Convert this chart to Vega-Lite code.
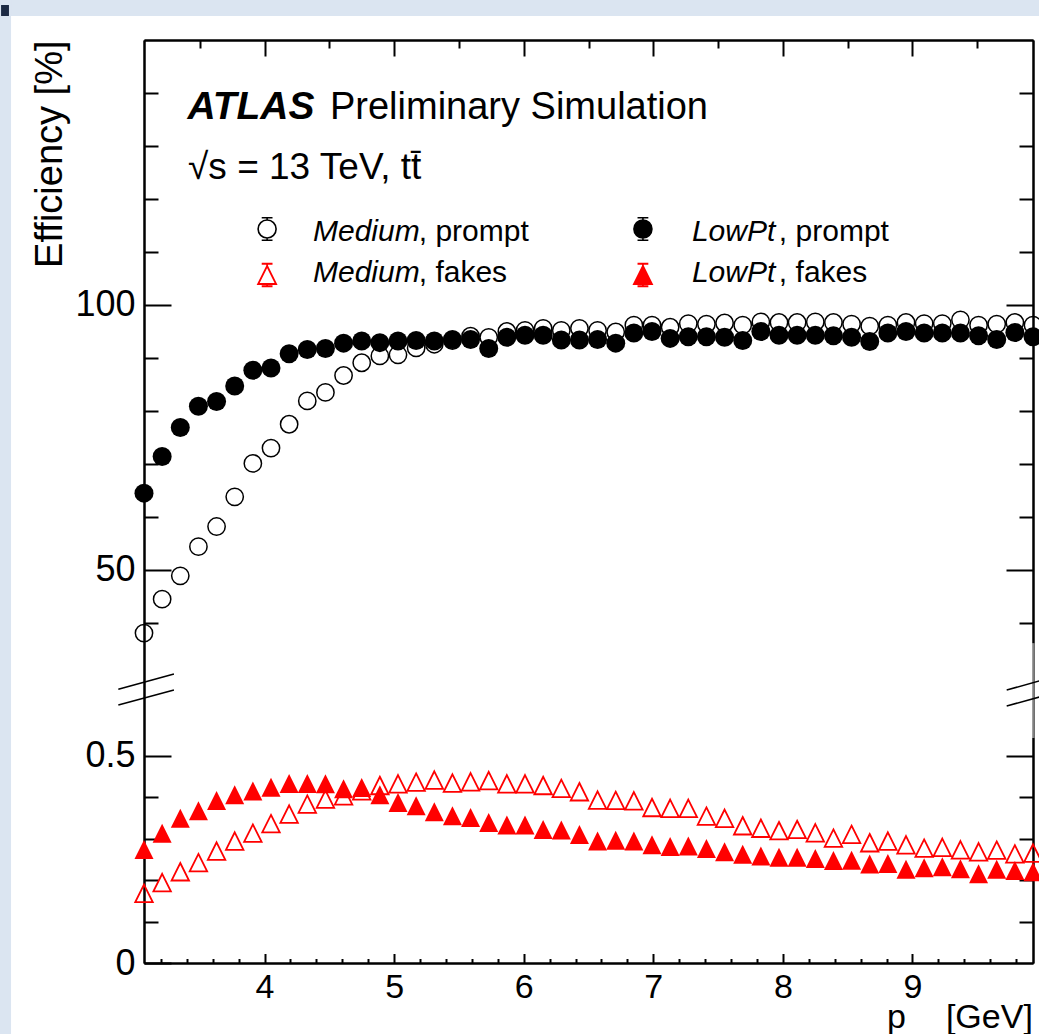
{
  "$schema": "https://vega.github.io/schema/vega-lite/v6.json",
  "autosize": "none",
  "width": 889,
  "height": 923,
  "padding": {"left": 144, "top": 40, "right": 6, "bottom": 71},
  "background": "white",
  "config": {
    "view": {"stroke": null},
    "font": "Liberation Sans",
    "axis": {
      "grid": false,
      "domainColor": "#000000",
      "domainWidth": 2,
      "tickColor": "#000000",
      "tickWidth": 2,
      "labelColor": "#000000",
      "labelFont": "Liberation Sans",
      "titleFont": "Liberation Sans",
      "titleColor": "#000000",
      "titleFontWeight": "normal",
      "labelFlush": false,
      "labelOverlap": false,
      "labelBound": false
    }
  },
  "data": {
    "values": [
      {"pt": 3.07, "mp": 38.1, "lp": 64.5, "mf": 0.168, "lf": 0.274},
      {"pt": 3.21, "mp": 44.5, "lp": 71.4, "mf": 0.194, "lf": 0.313},
      {"pt": 3.35, "mp": 48.9, "lp": 76.9, "mf": 0.220, "lf": 0.349},
      {"pt": 3.49, "mp": 54.4, "lp": 80.9, "mf": 0.242, "lf": 0.367},
      {"pt": 3.63, "mp": 58.2, "lp": 81.8, "mf": 0.270, "lf": 0.392},
      {"pt": 3.77, "mp": 63.8, "lp": 84.7, "mf": 0.294, "lf": 0.406},
      {"pt": 3.91, "mp": 70.1, "lp": 87.7, "mf": 0.313, "lf": 0.415},
      {"pt": 4.05, "mp": 73.0, "lp": 88.1, "mf": 0.336, "lf": 0.424},
      {"pt": 4.19, "mp": 77.5, "lp": 90.8, "mf": 0.359, "lf": 0.433},
      {"pt": 4.33, "mp": 81.9, "lp": 91.6, "mf": 0.383, "lf": 0.433},
      {"pt": 4.47, "mp": 83.5, "lp": 91.8, "mf": 0.395, "lf": 0.432},
      {"pt": 4.61, "mp": 86.7, "lp": 92.8, "mf": 0.403, "lf": 0.420},
      {"pt": 4.75, "mp": 89.1, "lp": 93.2, "mf": 0.415, "lf": 0.423},
      {"pt": 4.89, "mp": 90.4, "lp": 92.9, "mf": 0.428, "lf": 0.406},
      {"pt": 5.03, "mp": 90.6, "lp": 93.2, "mf": 0.432, "lf": 0.387},
      {"pt": 5.17, "mp": 91.9, "lp": 93.3, "mf": 0.436, "lf": 0.379},
      {"pt": 5.31, "mp": 92.6, "lp": 93.2, "mf": 0.441, "lf": 0.365},
      {"pt": 5.45, "mp": 93.3, "lp": 93.5, "mf": 0.434, "lf": 0.355},
      {"pt": 5.59, "mp": 94.1, "lp": 93.5, "mf": 0.437, "lf": 0.351},
      {"pt": 5.73, "mp": 93.9, "lp": 91.8, "mf": 0.440, "lf": 0.339},
      {"pt": 5.87, "mp": 95.0, "lp": 93.9, "mf": 0.432, "lf": 0.333},
      {"pt": 6.01, "mp": 95.2, "lp": 94.3, "mf": 0.432, "lf": 0.333},
      {"pt": 6.15, "mp": 95.6, "lp": 94.3, "mf": 0.428, "lf": 0.322},
      {"pt": 6.29, "mp": 95.2, "lp": 93.4, "mf": 0.421, "lf": 0.321},
      {"pt": 6.43, "mp": 95.6, "lp": 93.4, "mf": 0.413, "lf": 0.310},
      {"pt": 6.57, "mp": 95.2, "lp": 93.5, "mf": 0.393, "lf": 0.294},
      {"pt": 6.71, "mp": 94.9, "lp": 92.8, "mf": 0.392, "lf": 0.296},
      {"pt": 6.85, "mp": 96.2, "lp": 94.7, "mf": 0.391, "lf": 0.294},
      {"pt": 6.99, "mp": 96.2, "lp": 95.0, "mf": 0.375, "lf": 0.285},
      {"pt": 7.13, "mp": 95.8, "lp": 93.7, "mf": 0.373, "lf": 0.281},
      {"pt": 7.27, "mp": 96.5, "lp": 94.0, "mf": 0.373, "lf": 0.282},
      {"pt": 7.41, "mp": 96.4, "lp": 94.0, "mf": 0.354, "lf": 0.276},
      {"pt": 7.55, "mp": 96.6, "lp": 93.9, "mf": 0.349, "lf": 0.268},
      {"pt": 7.69, "mp": 96.2, "lp": 93.3, "mf": 0.331, "lf": 0.262},
      {"pt": 7.83, "mp": 96.8, "lp": 95.0, "mf": 0.325, "lf": 0.258},
      {"pt": 7.97, "mp": 96.7, "lp": 94.3, "mf": 0.319, "lf": 0.255},
      {"pt": 8.11, "mp": 96.7, "lp": 94.3, "mf": 0.322, "lf": 0.255},
      {"pt": 8.25, "mp": 96.8, "lp": 94.3, "mf": 0.314, "lf": 0.252},
      {"pt": 8.39, "mp": 96.7, "lp": 94.2, "mf": 0.301, "lf": 0.247},
      {"pt": 8.53, "mp": 96.4, "lp": 93.9, "mf": 0.310, "lf": 0.248},
      {"pt": 8.67, "mp": 96.0, "lp": 93.1, "mf": 0.290, "lf": 0.239},
      {"pt": 8.81, "mp": 96.2, "lp": 94.7, "mf": 0.294, "lf": 0.240},
      {"pt": 8.95, "mp": 96.7, "lp": 95.0, "mf": 0.285, "lf": 0.226},
      {"pt": 9.09, "mp": 96.5, "lp": 94.7, "mf": 0.277, "lf": 0.230},
      {"pt": 9.23, "mp": 96.5, "lp": 94.7, "mf": 0.279, "lf": 0.232},
      {"pt": 9.37, "mp": 97.2, "lp": 94.7, "mf": 0.273, "lf": 0.227},
      {"pt": 9.51, "mp": 96.2, "lp": 94.2, "mf": 0.268, "lf": 0.215},
      {"pt": 9.65, "mp": 96.4, "lp": 93.5, "mf": 0.272, "lf": 0.226},
      {"pt": 9.79, "mp": 96.7, "lp": 94.8, "mf": 0.263, "lf": 0.223},
      {"pt": 9.93, "mp": 96.2, "lp": 94.0, "mf": 0.265, "lf": 0.220}
    ]
  },
  "layer": [
    {
      "data": {"values": [{}]},
      "mark": {"type": "rect", "color": "#dbe5f1"},
      "encoding": {
        "x": {"datum": 1.8, "type": "quantitative", "axis": null, "scale": {"domain": [3.07, 9.93], "nice": false, "zero": false}},
        "x2": {"datum": 10.4},
        "y": {"datum": 154.53, "type": "quantitative", "axis": null, "scale": {"domain": [0, 0.5426, 18.3, 150], "range": [923, 698, 698, 0], "nice": false, "zero": false}},
        "y2": {"datum": 170}
      }
    },
    {
      "data": {"values": [{}]},
      "mark": {"type": "rect", "color": "#dbe5f1"},
      "encoding": {
        "x": {"datum": 1.8, "type": "quantitative", "axis": null},
        "x2": {"datum": 2.044},
        "y": {"datum": -0.3, "type": "quantitative", "axis": null},
        "y2": {"datum": 170}
      }
    },
    {
      "data": {"values": [{}]},
      "mark": {"type": "rect", "color": "#1c2a44"},
      "encoding": {
        "x": {"datum": 1.967, "type": "quantitative", "axis": null},
        "x2": {"datum": 2.028},
        "y": {"datum": 154.53, "type": "quantitative", "axis": null},
        "y2": {"datum": 156.6}
      }
    },
    {
      "mark": {"type": "point", "shape": "circle", "filled": false, "color": "#000000", "strokeWidth": 1.5, "size": 300, "opacity": 1},
      "encoding": {
        "x": {"field": "pt", "type": "quantitative", "scale": {"domain": [3.07, 9.93], "nice": false, "zero": false},
          "axis": {"orient": "bottom", "values": [4, 5, 6, 7, 8, 9], "tickSize": -9.5, "labelPadding": 17, "labelFontSize": 34, "labelExpr": "'' + datum.value", "title": null}},
        "y": {"field": "mp", "type": "quantitative", "scale": {"domain": [0, 0.5426, 18.3, 150], "range": [923, 698, 698, 0], "nice": false, "zero": false},
          "axis": {"orient": "left", "values": [0, 0.5, 50, 100], "tickSize": -27, "labelPadding": 36, "labelFontSize": 36, "labelExpr": "'' + datum.value", "title": "Efficiency [%]", "titleFontSize": 38, "titleAnchor": "end", "titlePadding": 5}}
      }
    },
    {
      "mark": {"type": "point", "shape": "circle", "filled": true, "color": "#000000", "size": 361, "opacity": 1},
      "encoding": {
        "x": {"field": "pt", "type": "quantitative",
          "axis": {"orient": "bottom", "values": [3.2, 3.4, 3.6, 3.8, 4.2, 4.4, 4.6, 4.8, 5.2, 5.4, 5.6, 5.8, 6.2, 6.4, 6.6, 6.8, 7.2, 7.4, 7.6, 7.8, 8.2, 8.4, 8.6, 8.8, 9.2, 9.4, 9.6, 9.8], "tickSize": -4.5, "labels": false, "title": null}},
        "y": {"field": "lp", "type": "quantitative",
          "axis": {"orient": "left", "values": [0.1, 0.2, 0.3, 0.4, 40, 60, 70, 80, 90, 110, 120, 130, 140], "tickSize": -14, "labels": false, "title": null}}
      }
    },
    {
      "mark": {"type": "point", "shape": "M0,-1L1,1L-1,1Z", "filled": false, "color": "#ff0000", "strokeWidth": 1.8, "size": 306, "opacity": 1},
      "encoding": {
        "x": {"field": "pt", "type": "quantitative",
          "axis": {"orient": "top", "values": [4, 5, 6, 7, 8, 9], "tickSize": -16, "labels": false, "title": null}},
        "y": {"field": "mf", "type": "quantitative",
          "axis": {"orient": "right", "values": [0.5, 50, 100], "tickSize": -27, "labels": false, "title": null}}
      }
    },
    {
      "mark": {"type": "point", "shape": "M0,-1L1,1L-1,1Z", "filled": true, "color": "#ff0000", "size": 361, "opacity": 1},
      "encoding": {
        "x": {"field": "pt", "type": "quantitative",
          "axis": {"orient": "top", "values": [3.5, 4.5, 5.5, 6.5, 7.5, 8.5, 9.5], "tickSize": -8, "labels": false, "title": null}},
        "y": {"field": "lf", "type": "quantitative",
          "axis": {"orient": "right", "values": [0.1, 0.2, 0.3, 0.4, 40, 60, 70, 80, 90, 110, 120, 130, 140], "tickSize": -14, "labels": false, "title": null}}
      }
    },
    {
      "data": {"values": [{}]},
      "mark": {"type": "rule", "color": "#ffffff", "opacity": 0.5, "strokeWidth": 3},
      "encoding": {
        "x": {"datum": 9.93, "type": "quantitative", "axis": null},
        "y": {"datum": 36.2, "type": "quantitative", "axis": null},
        "y2": {"datum": 18.3}
      }
    },
    {
      "data": {"values": [{}]},
      "mark": {"type": "rule", "color": "#000000", "strokeWidth": 1.5},
      "encoding": {
        "x": {"datum": 2.872, "type": "quantitative", "axis": null},
        "x2": {"datum": 3.301},
        "y": {"datum": 27.49, "type": "quantitative", "axis": null},
        "y2": {"datum": 30.38}
      }
    },
    {
      "data": {"values": [{}]},
      "mark": {"type": "rule", "color": "#000000", "strokeWidth": 1.5},
      "encoding": {
        "x": {"datum": 2.872, "type": "quantitative", "axis": null},
        "x2": {"datum": 3.301},
        "y": {"datum": 24.53, "type": "quantitative", "axis": null},
        "y2": {"datum": 27.36}
      }
    },
    {
      "data": {"values": [{}]},
      "mark": {"type": "rule", "color": "#000000", "strokeWidth": 1.5},
      "encoding": {
        "x": {"datum": 9.727, "type": "quantitative", "axis": null},
        "x2": {"datum": 10.153},
        "y": {"datum": 27.36, "type": "quantitative", "axis": null},
        "y2": {"datum": 30.23}
      }
    },
    {
      "data": {"values": [{}]},
      "mark": {"type": "rule", "color": "#000000", "strokeWidth": 1.5},
      "encoding": {
        "x": {"datum": 9.727, "type": "quantitative", "axis": null},
        "x2": {"datum": 10.153},
        "y": {"datum": 24.34, "type": "quantitative", "axis": null},
        "y2": {"datum": 27.2}
      }
    },
    {
      "data": {"values": [{}]},
      "mark": {"type": "point", "shape": "M1,0A1,1,0,1,1,-1,0A1,1,0,1,1,1,0Z M0,-1V-1.25 M-0.6,-1.25H0.6 M0,1V1.25 M-0.6,1.25H0.6", "filled": false, "color": "#000000", "strokeWidth": 1.6, "size": 324, "opacity": 1},
      "encoding": {
        "x": {"datum": 4.02, "type": "quantitative", "axis": null},
        "y": {"datum": 114.34, "type": "quantitative", "axis": null}
      }
    },
    {
      "data": {"values": [{}]},
      "mark": {"type": "point", "shape": "M0,-1L1,1L-1,1Z M0,-1V-1.25 M-0.6,-1.25H0.6 M0,1V1.25 M-0.6,1.25H0.6", "filled": false, "color": "#ff0000", "strokeWidth": 1.8, "size": 324, "opacity": 1},
      "encoding": {
        "x": {"datum": 4.02, "type": "quantitative", "axis": null},
        "y": {"datum": 105.66, "type": "quantitative", "axis": null}
      }
    },
    {
      "data": {"values": [{}]},
      "mark": {"type": "point", "shape": "M1,0A1,1,0,1,1,-1,0A1,1,0,1,1,1,0Z M0,-1V-1.25 M-0.6,-1.25H0.6 M0,1V1.25 M-0.6,1.25H0.6", "filled": true, "color": "#000000", "stroke": "#000000", "strokeWidth": 1.6, "size": 324, "opacity": 1},
      "encoding": {
        "x": {"datum": 6.92, "type": "quantitative", "axis": null},
        "y": {"datum": 114.34, "type": "quantitative", "axis": null}
      }
    },
    {
      "data": {"values": [{}]},
      "mark": {"type": "point", "shape": "M0,-1L1,1L-1,1Z M0,-1V-1.25 M-0.6,-1.25H0.6 M0,1V1.25 M-0.6,1.25H0.6", "filled": true, "color": "#ff0000", "stroke": "#ff0000", "strokeWidth": 1.8, "size": 324, "opacity": 1},
      "encoding": {
        "x": {"datum": 6.92, "type": "quantitative", "axis": null},
        "y": {"datum": 105.66, "type": "quantitative", "axis": null}
      }
    },
    {
      "data": {"values": [{}]},
      "mark": {"type": "text", "text": "ATLAS", "fontSize": 39, "fontStyle": "italic", "fontWeight": "bold", "align": "left", "baseline": "alphabetic", "color": "#000000"},
      "encoding": {"x": {"datum": 3.405, "type": "quantitative", "axis": null}, "y": {"datum": 135.1, "type": "quantitative", "axis": null}}
    },
    {
      "data": {"values": [{}]},
      "mark": {"type": "text", "text": "Preliminary Simulation", "fontSize": 38, "align": "left", "baseline": "alphabetic", "color": "#000000"},
      "encoding": {"x": {"datum": 4.505, "type": "quantitative", "axis": null}, "y": {"datum": 135.1, "type": "quantitative", "axis": null}}
    },
    {
      "data": {"values": [{}]},
      "mark": {"type": "text", "text": "√s = 13 TeV, tt̄", "fontSize": 37, "align": "left", "baseline": "alphabetic", "color": "#000000"},
      "encoding": {"x": {"datum": 3.41, "type": "quantitative", "axis": null}, "y": {"datum": 123.77, "type": "quantitative", "axis": null}}
    },
    {
      "data": {"values": [{}]},
      "mark": {"type": "text", "text": "Medium", "fontSize": 30, "fontStyle": "italic", "align": "left", "baseline": "alphabetic", "color": "#000000"},
      "encoding": {"x": {"datum": 4.374, "type": "quantitative", "axis": null}, "y": {"datum": 112.07, "type": "quantitative", "axis": null}}
    },
    {
      "data": {"values": [{}]},
      "mark": {"type": "text", "text": ", prompt", "fontSize": 30, "align": "left", "baseline": "alphabetic", "color": "#000000"},
      "encoding": {"x": {"datum": 5.19, "type": "quantitative", "axis": null}, "y": {"datum": 112.07, "type": "quantitative", "axis": null}}
    },
    {
      "data": {"values": [{}]},
      "mark": {"type": "text", "text": "Medium", "fontSize": 30, "fontStyle": "italic", "align": "left", "baseline": "alphabetic", "color": "#000000"},
      "encoding": {"x": {"datum": 4.374, "type": "quantitative", "axis": null}, "y": {"datum": 104.34, "type": "quantitative", "axis": null}}
    },
    {
      "data": {"values": [{}]},
      "mark": {"type": "text", "text": ", fakes", "fontSize": 30, "align": "left", "baseline": "alphabetic", "color": "#000000"},
      "encoding": {"x": {"datum": 5.19, "type": "quantitative", "axis": null}, "y": {"datum": 104.34, "type": "quantitative", "axis": null}}
    },
    {
      "data": {"values": [{}]},
      "mark": {"type": "text", "text": "LowPt", "fontSize": 30, "fontStyle": "italic", "align": "left", "baseline": "alphabetic", "color": "#000000"},
      "encoding": {"x": {"datum": 7.298, "type": "quantitative", "axis": null}, "y": {"datum": 112.07, "type": "quantitative", "axis": null}}
    },
    {
      "data": {"values": [{}]},
      "mark": {"type": "text", "text": ", prompt", "fontSize": 30, "align": "left", "baseline": "alphabetic", "color": "#000000"},
      "encoding": {"x": {"datum": 7.969, "type": "quantitative", "axis": null}, "y": {"datum": 112.07, "type": "quantitative", "axis": null}}
    },
    {
      "data": {"values": [{}]},
      "mark": {"type": "text", "text": "LowPt", "fontSize": 30, "fontStyle": "italic", "align": "left", "baseline": "alphabetic", "color": "#000000"},
      "encoding": {"x": {"datum": 7.298, "type": "quantitative", "axis": null}, "y": {"datum": 104.34, "type": "quantitative", "axis": null}}
    },
    {
      "data": {"values": [{}]},
      "mark": {"type": "text", "text": ", fakes", "fontSize": 30, "align": "left", "baseline": "alphabetic", "color": "#000000"},
      "encoding": {"x": {"datum": 7.969, "type": "quantitative", "axis": null}, "y": {"datum": 104.34, "type": "quantitative", "axis": null}}
    },
    {
      "data": {"values": [{}]},
      "mark": {"type": "text", "text": "p", "fontSize": 34, "align": "left", "baseline": "alphabetic", "color": "#000000"},
      "encoding": {"x": {"datum": 8.803, "type": "quantitative", "axis": null}, "y": {"datum": -0.1567, "type": "quantitative", "axis": null}}
    },
    {
      "data": {"values": [{}]},
      "mark": {"type": "text", "text": "[GeV]", "fontSize": 34, "align": "left", "baseline": "alphabetic", "color": "#000000"},
      "encoding": {"x": {"datum": 9.258, "type": "quantitative", "axis": null}, "y": {"datum": -0.1567, "type": "quantitative", "axis": null}}
    }
  ],
  "resolve": {"axis": {"x": "independent", "y": "independent"}}
}
